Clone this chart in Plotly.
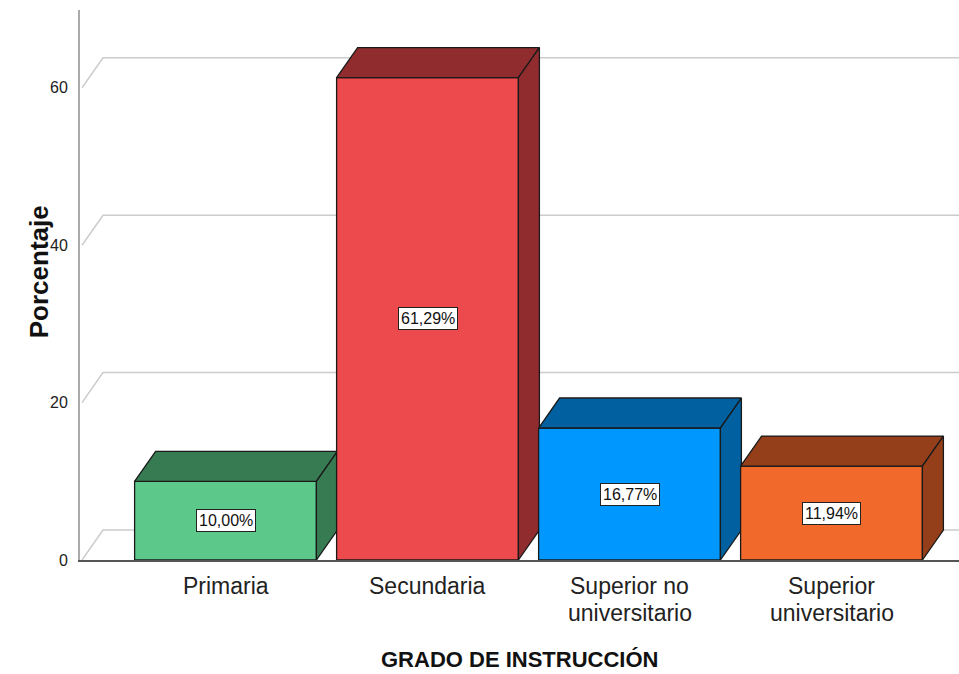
import plotly.graph_objects as go

# datos
categorias = ["Primaria", "Secundaria", "Superior no\nuniversitario", "Superior\nuniversitario"]
porcentajes = [10.00, 61.29, 16.77, 11.94]
etiquetas = ["10,00%", "61,29%", "16,77%", "11,94%"]
y_ticks = [0, 20, 40, 60]

colores_frente = ["#5CC98B", "#EC4A4D", "#0098FF", "#F26A2B"]
colores_lado = ["#367B52", "#912C2E", "#0060A0", "#953F1A"]

W, H = 959, 674
ML, MR, MT, MB = 80, 0, 10, 114
px_x = 202.0          # pixeles por categoria
px_y = 7.87           # pixeles por punto porcentual
x_rango = [(ML - 225.5) / px_x, (W - MR - 225.5) / px_x]
y_rango = [0, (H - MT - MB) / px_y]
dx = 21 / px_x        # profundidad 3D
dy = 30 / px_y
ancho = 0.9

fuente = "Liberation Sans, Arial, sans-serif"
borde = "#1a1a1a"

fig = go.Figure()


def cara(xs, ys, color):
    fig.add_trace(go.Scatter(x=xs + [xs[0]], y=ys + [ys[0]], mode="lines", fill="toself",
                             fillcolor=color, line=dict(color=borde, width=1.3),
                             hoverinfo="skip", showlegend=False))


for i, v in enumerate(porcentajes):
    xl, xr = i - ancho / 2, i + ancho / 2
    cara([xl, xr, xr, xl], [0, 0, v, v], colores_frente[i])
    cara([xl, xr, xr + dx, xl + dx], [v, v, v + dy, v + dy], colores_lado[i])
    cara([xr, xr + dx, xr + dx, xr], [0, dy, v + dy, v], colores_lado[i])
    fig.add_annotation(x=i, y=v / 2, text=etiquetas[i], showarrow=False,
                       font=dict(family=fuente, size=16, color="#111111"),
                       bgcolor="white", bordercolor="#222222", borderwidth=1, borderpad=2)

# lineas de cuadricula en perspectiva
for t in y_ticks:
    fig.add_shape(type="path", layer="below",
                  path=f"M {x_rango[0] + 0.01},{t} L {x_rango[0] + 0.01 + dx},{t + dy} L {x_rango[1]},{t + dy}",
                  line=dict(color="#cccccc", width=1.5))

# etiquetas de categoria
for i, c in enumerate(categorias):
    for k, linea in enumerate(c.split("\n")):
        fig.add_annotation(x=i, xref="x", y=0, yref="paper", yanchor="middle", yshift=-26 - 27 * k,
                           text=linea, showarrow=False,
                           font=dict(family=fuente, size=23, color="#222222"))

fig.add_annotation(x=0.5, xref="paper", y=0, yref="paper", yanchor="middle",
                   yshift=-99, text="<b>GRADO DE INSTRUCCIÓN</b>", showarrow=False,
                   font=dict(family=fuente, size=22, color="#111111"))
fig.add_annotation(x=-0.066, xref="paper", y=0.525, yref="paper", textangle=-90,
                   text="<b>Porcentaje</b>", showarrow=False,
                   font=dict(family=fuente, size=26, color="#111111"))

fig.update_layout(width=W, height=H, margin=dict(l=ML, r=MR, t=MT, b=MB),
                  paper_bgcolor="white", plot_bgcolor="white", showlegend=False)
fig.update_xaxes(range=x_rango, showgrid=False, zeroline=False, showticklabels=False,
                 showline=True, linecolor="#555555", linewidth=1.5, fixedrange=True)
fig.update_yaxes(range=y_rango, showgrid=False, zeroline=False, tickvals=y_ticks,
                 tickfont=dict(family=fuente, size=16, color="#222222"), ticklabelstandoff=7,
                 showline=True, linecolor="#aaaaaa", linewidth=2, fixedrange=True)

fig.write_html("out.html", config={"displayModeBar": False},
               post_script="document.body.style.margin='0';")
